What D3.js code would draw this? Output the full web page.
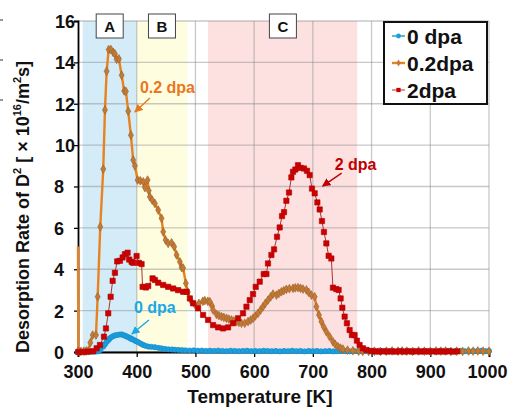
<!DOCTYPE html>
<html>
<head>
<meta charset="utf-8">
<script src="https://cdn.jsdelivr.net/npm/d3@7"></script>
<style>
body{margin:0;background:#fff}
text{font-family:"Liberation Sans",Arial,sans-serif;font-weight:bold}
</style>
</head>
<body>
<svg id="chart" width="508" height="407"></svg>
<script>
// temperature [K], desorption rate [x10^16 /m2 s]
var dpa0 = [
  [300,0.03],[305,0.02],[310,0.03],[315,0.02],[320,0.02],[325,0.01],[330,0.02],[334,0.03],[338,0.1],[343,0.26],
  [346,0.38],[349,0.5],[352,0.58],[354,0.66],[357,0.72],[360,0.77],[363,0.8],[366,0.82],[370,0.84],[374,0.85],
  [377,0.82],[380,0.79],[383,0.75],[386,0.71],[389,0.67],[391,0.63],[394,0.6],[397,0.55],[400,0.51],[403,0.47],
  [407,0.4],[411,0.34],[415,0.3],[420,0.26],[425,0.25],[431,0.23],[437,0.2],[442,0.18],[448,0.15],[454,0.13],
  [460,0.12],[465,0.11],[471,0.1],[477,0.09],[483,0.08],[490,0.07],[497,0.08],[504,0.06],[511,0.07],[518,0.05],
  [525,0.06],[532,0.05],[539,0.07],[546,0.05],[553,0.04],[560,0.06],[567,0.05],[574,0.04],[581,0.05],[588,0.06],
  [595,0.04],[602,0.05],[609,0.04],[616,0.06],[623,0.05],[630,0.04],[637,0.05],[644,0.03],[651,0.05],[658,0.04],
  [665,0.06],[672,0.04],[679,0.05],[686,0.03],[693,0.05],[700,0.04],[707,0.05],[714,0.03],[721,0.04],[728,0.05],
  [735,0.03],[742,0.04],[749,0.06],[756,0.04],[763,0.03],[770,0.05],[777,0.04],[784,0.03],[791,0.05],[798,0.04],
  [805,0.03],[812,0.05],[819,0.04],[826,0.06],[833,0.04],[840,0.03],[847,0.05],[854,0.04],[861,0.06],[868,0.04],
  [875,0.03],[882,0.05],[889,0.04],[896,0.05],[903,0.03],[910,0.04],[917,0.06],[924,0.04],[931,0.05],[938,0.03],
  [945,0.04],[952,0.05],[959,0.04],[966,0.03],[973,0.05],[980,0.04],[987,0.06],[994,0.04],[1000,0.05]
]

var dpa02 = [
  [300,5.1],[300.5,0.04],[305,0.03],[310,0.04],[314,0.05],[317.5,0.06],[321,0.45],[325,0.82],[330.6,0.82],[333.5,2.67],
  [337.9,6.05],[343,8.84],[345.9,11.7],[348.8,13.57],[352.2,14.62],[356.1,14.62],[360,14.48],[362.9,14.41],[365.8,14.15],[369.7,14.17],
  [374.3,13.38],[378.7,12.62],[381.6,12.6],[385.5,11.64],[390.1,10.48],[394,9.28],[396.9,9.0],[401.5,8.31],[406,8.28],[411.1,8.23],
  [413.9,7.95],[418.5,8.31],[420.5,7.8],[422.4,7.5],[426.4,7.34],[431,7.18],[436.6,6.86],[442.3,6.46],[445.1,5.81],[449.2,5.41],
  [453.6,5.25],[459.4,5.28],[463.8,5.09],[467.9,4.69],[473.5,4.36],[476.4,4.09],[479.1,4.06],[483.7,3.32],[487.1,2.9],[492.2,2.5],
  [499,2.3],[505.8,2.35],[512.6,2.45],[516,2.48],[521.1,2.45],[524.5,2.43],[528.4,2.22],[530.1,2.03],[535.9,1.82],[540,1.76],
  [544.4,1.71],[548.5,1.67],[552.9,1.63],[557,1.59],[561.4,1.55],[565.5,1.5],[569.9,1.47],[574,1.43],[578.4,1.39],[584,1.39],
  [589.6,1.47],[594,1.54],[598.1,1.63],[602,1.74],[606.6,1.87],[611,2.03],[615.1,2.19],[619,2.35],[623.6,2.51],[628,2.66],
  [632.1,2.8],[637.9,2.75],[642,2.83],[646.4,2.91],[650.5,2.97],[654.9,3.03],[660,3.06],[666.2,3.08],[670,3.1],[674.7,3.11],
  [679,3.08],[683.2,3.04],[689,3.0],[693,2.88],[697.5,2.75],[703.1,2.67],[706,2.19],[710.4,1.79],[714.5,1.47],[718.4,1.22],
  [723,0.98],[728.6,0.74],[734.2,0.5],[738,0.37],[742.7,0.26],[747,0.19],[751.2,0.14],[759,0.09],[768.2,0.06],[778,0.04],
  [785,0.03],[795,0.03],[805,0.04],[815,0.03],[825,0.04],[835,0.05],[845,0.04],[852,0.05],[860,0.04],[870,0.03],
  [880,0.05],[890,0.04],[900,0.03],[910,0.05],[918,0.04],[926,0.05],[935,0.03],[945,0.04],[955,0.03],[965,0.05],
  [973,0.04],[981,0.05],[990,0.04],[1000,0.03]
]

var dpa2 = [
  [300.5,0.0],[309,0.0],[317.5,0.02],[326,0.04],[331.8,0.18],[337.4,0.34],[344.2,0.74],[347.6,1.14],[351.5,1.87],[355.6,2.67],
  [359,3.44],[362.9,3.83],[366.8,4.38],[371.4,4.41],[376,4.57],[379.9,4.73],[384.5,4.8],[387.2,4.47],[391.3,4.36],[394,4.31],
  [399.8,4.64],[403.7,4.31],[408.3,4.25],[410,3.15],[415.6,3.12],[419.6,3.19],[427,3.56],[431,3.48],[436.6,3.35],[445.1,3.24],
  [453.6,3.15],[462.1,3.07],[470.6,2.99],[479.1,2.91],[484.9,2.91],[490.5,2.59],[496.1,2.35],[504.6,2.11],[513.1,1.79],[521.6,1.55],
  [530.1,1.3],[538.6,1.19],[547.1,1.14],[555.6,1.19],[564.1,1.39],[572.6,1.63],[581.1,1.87],[586.9,2.19],[592.5,2.51],[598.1,2.8],
  [602.7,3.15],[609.5,3.4],[616.3,3.77],[620.9,3.77],[623.6,4.28],[629.4,4.69],[633.9,4.96],[639,5.57],[643.5,6.02],[647.5,6.57],
  [650.9,6.76],[654.9,7.31],[659.4,7.71],[663.4,8.44],[666.2,8.71],[670.2,8.82],[674.7,9.03],[679.3,8.9],[684.9,8.87],[690,8.76],
  [694.6,8.55],[698.5,7.9],[703.1,7.67],[707.7,7.23],[711.6,6.89],[715.5,6.33],[718.9,5.8],[723,5.25],[726.9,4.65],[731.5,4.52],
  [734.2,3.11],[740,3.04],[743.9,3.0],[747.3,2.59],[750.2,2.14],[754.1,1.71],[758,1.39],[762.6,1.06],[766.5,0.82],[771.1,0.82],
  [775,0.55],[779.6,0.34],[785.2,0.18],[791,0.1],[799.5,0.05],[806,0.03],[813,0.02],[820,0.03],[827,0.02],[834,0.03],
  [841,0.02],[848,0.03],[855,0.02],[862,0.03],[869,0.02],[876,0.03],[883,0.02],[890,0.03],[897,0.02],[904,0.03],
  [911,0.02],[918,0.03],[925,0.02],[932,0.03],[939,0.02],[946,0.03]
]

var xTicks = [300, 400, 500, 600, 700, 800, 900, 1000]
var yTicks = [0, 2, 4, 6, 8, 10, 12, 14, 16]

// temperature ranges A, B, C
var regionNames = ['A', 'B', 'C']
var regionStart = [308, 400, 521.5]
var regionEnd = [400, 486.5, 775.5]
var regionLabelAt = [354, 443, 649]
var regionColors = ['#d3ecf8', '#fefde0', '#fde0e0']

var seriesNames = ['0 dpa', '0.2dpa', '2dpa']


var svg = d3.select('#chart')

var x = d3.scaleLinear().domain([300, 1000]).range([78, 489])
var y = d3.scaleLinear().domain([0, 16]).range([352, 21])

// shaded regions
svg.append('g').selectAll('rect')
  .data(regionNames)
  .join('rect')
  .attr('x', (d, i) => x(regionStart[i]))
  .attr('width', (d, i) => x(regionEnd[i]) - x(regionStart[i]))
  .attr('y', y(16))
  .attr('height', y(0) - y(16))
  .attr('fill', (d, i) => regionColors[i])

// grid
var grid = svg.append('g').attr('stroke', '#888').attr('stroke-opacity', 0.45).attr('stroke-width', 1.3)
grid.selectAll('line.h').data(yTicks).join('line')
  .attr('x1', x(300)).attr('x2', x(1000))
  .attr('y1', d => y(d)).attr('y2', d => y(d))
grid.selectAll('line.v').data(xTicks.slice(1)).join('line')
  .attr('x1', d => x(d)).attr('x2', d => x(d))
  .attr('y1', y(0)).attr('y2', y(16))

// region label boxes
var boxSel = svg.append('g').selectAll('g')
  .data(regionNames)
  .join('g')
  .attr('transform', (d, i) => `translate(${x(regionLabelAt[i])},26)`)
boxSel.append('rect')
  .attr('x', -13.5).attr('y', -12).attr('width', 27).attr('height', 24)
  .attr('fill', '#fff').attr('stroke', '#444').attr('stroke-width', 1)
boxSel.append('text')
  .attr('text-anchor', 'middle').attr('y', 5.5)
  .attr('font-size', 15).attr('fill', '#111')
  .text(d => d)

// axes
var xAxis = svg.append('g')
  .attr('transform', `translate(0,${y(0)})`)
  .call(d3.axisBottom(x).tickValues(xTicks).tickFormat(d3.format('d')).tickSize(5).tickPadding(8))
xAxis.select('.domain').attr('stroke-width', 1.8)
xAxis.selectAll('.tick line').attr('stroke-width', 1.3)
xAxis.selectAll('.tick text').attr('font-size', 18).attr('fill', '#111')
  .attr('font-family', '"Liberation Sans",Arial,sans-serif').attr('font-weight', 'bold')
  .attr('x', d => d == 1000 ? -2 : 0)

var yAxis = svg.append('g')
  .attr('transform', `translate(${x(300)},0)`)
  .call(d3.axisLeft(y).tickValues(yTicks).tickSize(4).tickPadding(3))
yAxis.select('.domain').attr('stroke-width', 1.8)
yAxis.selectAll('.tick line').attr('stroke-width', 1.3)
yAxis.selectAll('.tick text').attr('font-size', 18).attr('fill', '#111')
  .attr('font-family', '"Liberation Sans",Arial,sans-serif').attr('font-weight', 'bold')
  .attr('x', d => d >= 10 ? -3 : -14)
  .attr('dy', '0.36em')

// series
var line = d3.line().x(d => x(d[0])).y(d => y(d[1]))

function drawSeries(data, lineColor, lineWidth, symbol, size, fill, stroke){
  var g = svg.append('g')
  g.append('path').datum(data)
    .attr('d', line).attr('fill', 'none')
    .attr('stroke', lineColor).attr('stroke-width', lineWidth)
    .attr('stroke-linejoin', 'round')
  g.selectAll('path.pt').data(data.slice(symbol == d3.symbolDiamond ? 1 : 0)).join('path')
    .attr('class', 'pt')
    .attr('transform', d => `translate(${x(d[0])},${y(d[1])})`)
    .attr('d', d3.symbol(symbol, size))
    .attr('fill', fill).attr('stroke', stroke).attr('stroke-width', 0.6)
}

drawSeries(dpa0, '#2a93c8', 1.4, d3.symbolCircle, 22, '#1a9fe0', '#1689c4')
drawSeries(dpa02, '#e8821e', 2.4, d3.symbolDiamond, 22, '#c27a34', '#9a5f28')
drawSeries(dpa2, '#a83434', 1, d3.symbolSquare, 28, '#cc0000', '#b00000')

// annotations
svg.append('defs').selectAll('marker')
  .data(['#e8771e', '#c00000', '#1aa8e6'])
  .join('marker')
  .attr('id', (d, i) => 'arrow' + i)
  .attr('viewBox', '0 0 10 10').attr('refX', 9).attr('refY', 5)
  .attr('markerWidth', 6).attr('markerHeight', 6).attr('orient', 'auto')
  .append('path').attr('d', 'M0,0L10,5L0,10z').attr('fill', d => d)

var notes = [
  {text: '0.2 dpa', color: '#e8771e', at: [405.4, 12.54], from: [422.5, 12.28], to: [396.9, 11.6]},
  {text: '2 dpa', color: '#c00000', at: [737.1, 8.8], from: [749, 8.65], to: [716.7, 8.02]},
  {text: '0 dpa', color: '#1aa8e6', at: [395.2, 1.88], from: [420.7, 1.55], to: [391.8, 0.87]}
]
notes.forEach((n, i) => {
  svg.append('text')
    .attr('x', x(n.at[0])).attr('y', y(n.at[1]))
    .attr('font-size', 16).attr('fill', n.color)
    .text(n.text)
  svg.append('line')
    .attr('x1', x(n.from[0])).attr('y1', y(n.from[1]))
    .attr('x2', x(n.to[0])).attr('y2', y(n.to[1]))
    .attr('stroke', n.color).attr('stroke-width', 1.4)
    .attr('marker-end', `url(#arrow${i})`)
})

// legend
var legend = svg.append('g').attr('transform', 'translate(384,22)')
legend.append('rect')
  .attr('width', 103).attr('height', 82)
  .attr('fill', '#fff').attr('stroke', '#111').attr('stroke-width', 2)

var legendStyle = [
  {line: '#2a93c8', w: 1.4, symbol: d3.symbolCircle, size: 18, fill: '#1a9fe0'},
  {line: '#e8821e', w: 2.4, symbol: d3.symbolDiamond, size: 14, fill: '#c27a34'},
  {line: '#a83434', w: 1, symbol: d3.symbolSquare, size: 18, fill: '#cc0000'}
]
var legRow = legend.selectAll('g.row').data(seriesNames).join('g')
  .attr('transform', (d, i) => `translate(0,${14 + i * 27})`)
legRow.append('line')
  .attr('x1', 8).attr('x2', 21)
  .attr('stroke', (d, i) => legendStyle[i].line)
  .attr('stroke-width', (d, i) => legendStyle[i].w)
legRow.append('path')
  .attr('transform', 'translate(14.5,0)')
  .attr('d', (d, i) => d3.symbol(legendStyle[i].symbol, legendStyle[i].size)())
  .attr('fill', (d, i) => legendStyle[i].fill)
legRow.append('text')
  .attr('x', 23).attr('y', 7.5)
  .attr('font-size', 21).attr('fill', '#111')
  .text(d => d)

// axis titles
svg.append('text')
  .attr('x', 260).attr('y', 403)
  .attr('text-anchor', 'middle').attr('font-size', 19).attr('fill', '#111')
  .text('Temperature [K]')

var yTitle = svg.append('text')
  .attr('transform', 'translate(29,353) rotate(-90)')
  .attr('font-size', 18).attr('fill', '#111')
yTitle.append('tspan').text('Desorption Rate of D')
yTitle.append('tspan').attr('font-size', 11).attr('dy', -8).text('2')
yTitle.append('tspan').attr('dy', 8).text('  [ × 10')
yTitle.append('tspan').attr('font-size', 11).attr('dy', -8).text('16')
yTitle.append('tspan').attr('dy', 8).text('/m')
yTitle.append('tspan').attr('font-size', 11).attr('dy', -8).text('2')
yTitle.append('tspan').attr('dy', 8).text('s]')

// little dashes cut off at the left edge
svg.append('g').selectAll('line').data([20, 60, 100]).join('line')
  .attr('x1', 0).attr('x2', 3).attr('y1', d => d).attr('y2', d => d)
  .attr('stroke', '#555').attr('stroke-width', 1.2)
</script>
</body>
</html>
